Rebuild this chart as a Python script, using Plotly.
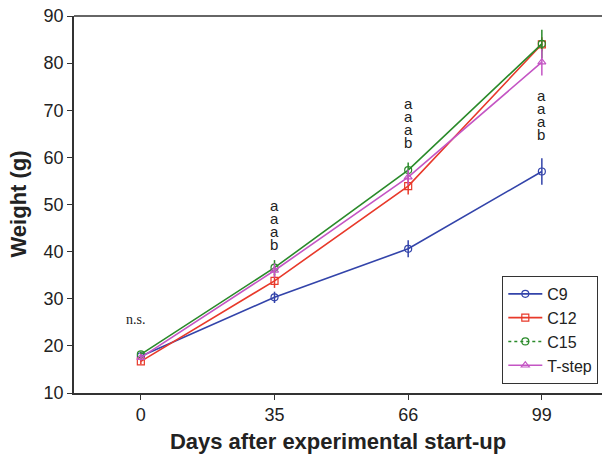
import plotly.graph_objects as go

days = ["0", "35", "66", "99"]
c9 = [17.8, 30.3, 40.6, 57.0]
c9_err = [0.6, 1.2, 1.8, 2.8]
c12 = [16.7, 33.8, 53.9, 84.0]
c12_err = [0.6, 1.5, 1.8, 1.5]
c15 = [18.2, 36.6, 57.3, 84.1]
c15_err = [0.6, 1.6, 1.6, 3.0]
tstep = [17.5, 36.0, 55.8, 80.2]
tstep_err = [0.6, 1.5, 1.6, 2.8]

sig_days = ["35", "66", "99"]
sig_letters = ["a", "a", "a", "b"]
sig_mid = [45.6, 67.2, 69.0]   # vertical centre of each letter stack

fig = go.Figure()

series = [
    ("C9", c9, c9_err, "#3344aa", "circle-open"),
    ("C12", c12, c12_err, "#e8392a", "square-open"),
    ("C15", c15, c15_err, "#2a8a2a", "circle-open"),
    ("T-step", tstep, tstep_err, "#c455c4", "triangle-up-open"),
]
rank = {"C9": 1, "C12": 2, "C15": 3, "T-step": 4}
xi = list(range(len(days)))
for name, vals, err, col, sym in series:
    fig.add_trace(go.Scatter(
        x=xi, y=vals, mode="lines+markers", name=name,
        showlegend=(name != "C15"), legendrank=rank[name],
        line=dict(color=col, width=1.6),
        marker=dict(symbol=sym, size=7, color=col, line=dict(width=1.2, color=col)),
        error_y=dict(type="data", array=err, color=col, thickness=1.5, width=0),
    ))
    if name == "C15":
        fig.add_trace(go.Scatter(
            x=[None], y=[None], mode="lines+markers", name=name, legendrank=rank[name],
            line=dict(color=col, width=1.6, dash="dot"),
            marker=dict(symbol=sym, size=7, color=col, line=dict(width=1.2, color=col)),
        ))

stack_text = "<br>".join("<span style='font-size:15px'>%s</span>" % l for l in sig_letters)
for d, mid in zip(sig_days, sig_mid):
    fig.add_annotation(x=days.index(d), y=mid, text=stack_text, showarrow=False,
                       font=dict(family="Liberation Sans, Arial", size=10, color="#222"),
                       yanchor="middle", xanchor="center")

fig.add_annotation(x=-0.04, y=25.7, text="n.s.", showarrow=False,
                   font=dict(family="Liberation Serif, Times New Roman", size=14, color="#222"))

fig.add_annotation(xref="paper", yref="paper", x=0, y=0.5, xshift=-56, textangle=-90,
                   text="<b>Weight (g)</b>", showarrow=False, xanchor="center", yanchor="middle",
                   font=dict(family="Liberation Sans, Arial", size=22, color="#222"))

fig.add_shape(type="line", xref="paper", yref="paper", x0=0, x1=1, y0=1, y1=1,
              line=dict(color="#333", width=1.5))

fig.update_layout(
    width=602, height=454,
    margin=dict(l=74, r=0, t=16, b=61),
    plot_bgcolor="white", paper_bgcolor="white",
    font=dict(family="Liberation Sans, Arial", color="#222"),
    legend=dict(x=0.993, xanchor="right", y=0.024, yanchor="bottom",
                bordercolor="#333", borderwidth=1, bgcolor="white",
                font=dict(size=16), tracegroupgap=0, itemwidth=34),
    xaxis=dict(range=[-0.5, 3.45], tickmode="array", tickvals=xi, ticktext=days,
               showgrid=False, zeroline=False, showline=True, linecolor="#333", linewidth=1.5,
               ticks="outside", ticklen=5, tickcolor="#333", automargin=False,
               tickfont=dict(size=18),
               title=dict(text="<b>Days after experimental start-up</b>", font=dict(size=22), standoff=9)),
    yaxis=dict(range=[10, 90], dtick=10, showgrid=False, zeroline=False,
               showline=True, linecolor="#333", linewidth=1.5,
               ticks="outside", ticklen=5, tickcolor="#333", automargin=False,
               tickfont=dict(size=18)),
)

fig.write_html("out.html", config={"displayModeBar": False},
               post_script="document.body.style.margin='0';document.body.style.padding='0';")
